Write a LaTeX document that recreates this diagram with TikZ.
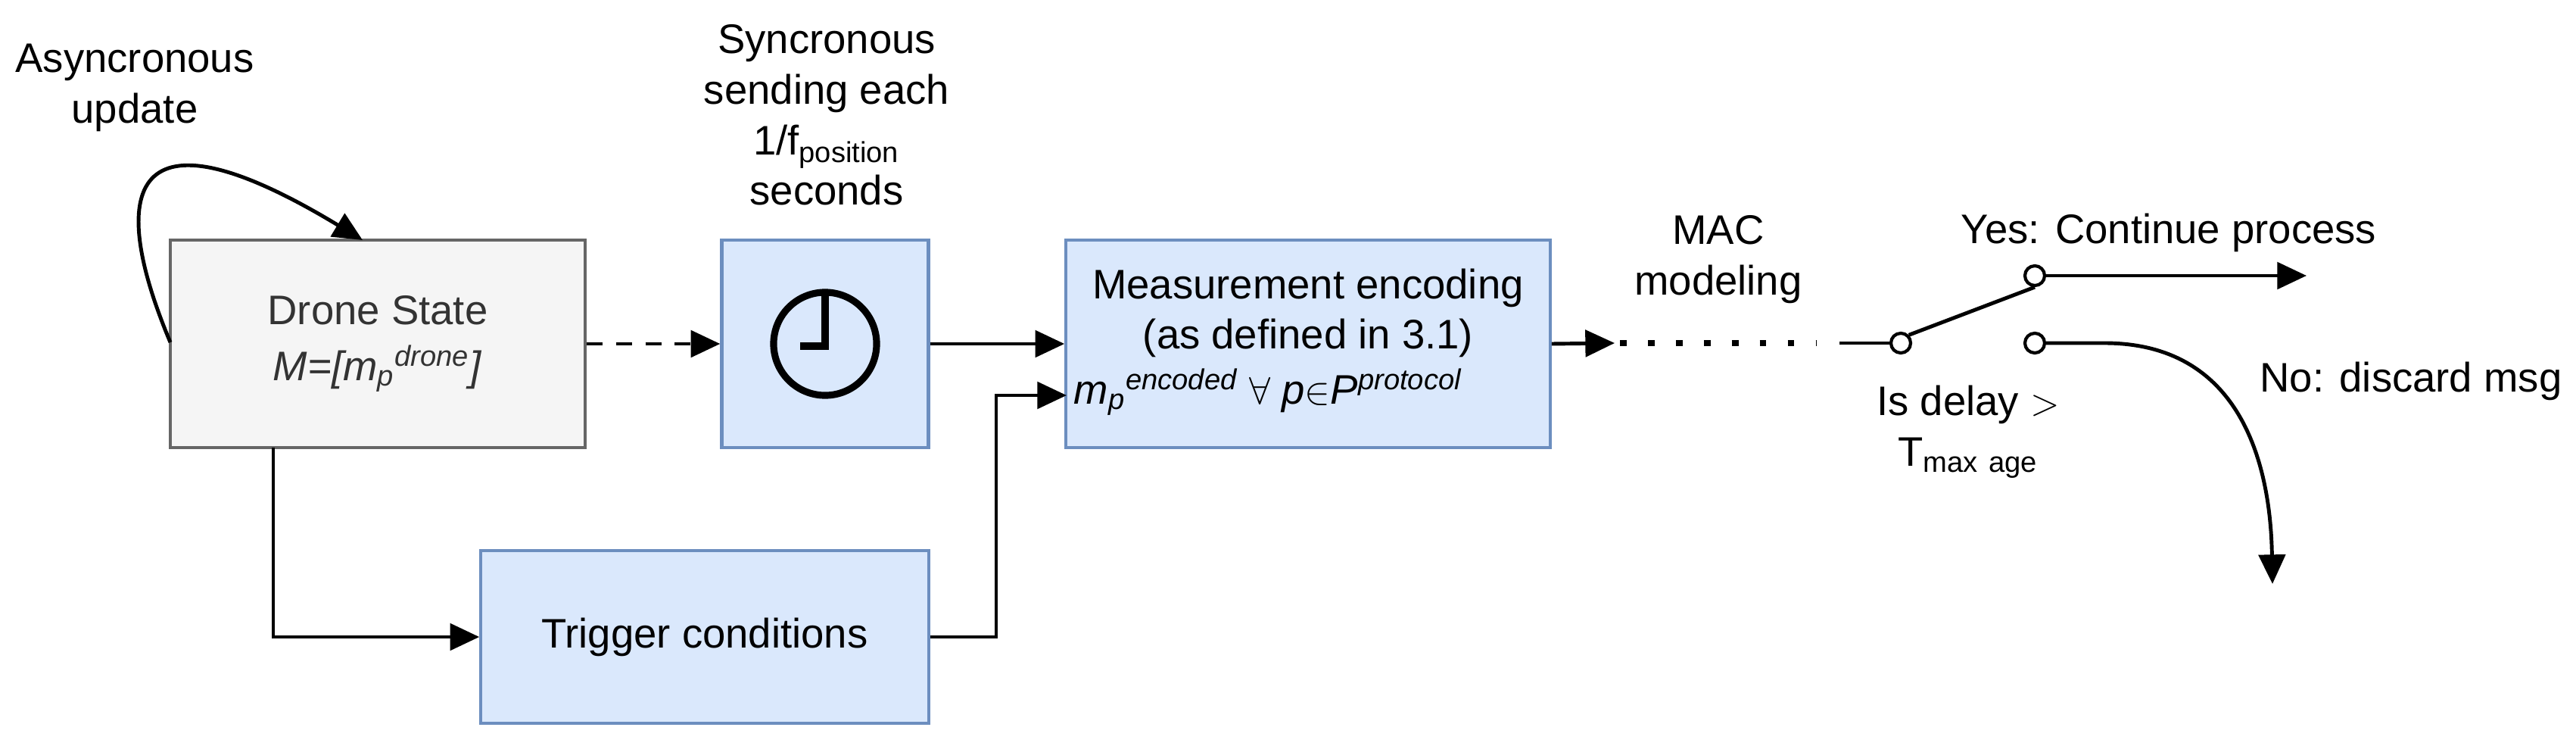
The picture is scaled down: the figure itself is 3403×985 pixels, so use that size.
\documentclass[tikz,border=0pt]{standalone}
\usepackage{fontspec}
\setmainfont{Liberation Sans}
\usetikzlibrary{arrows.meta}
\definecolor{bfill}{HTML}{DAE8FC}
\definecolor{bdraw}{HTML}{6C8EBF}
\definecolor{gfill}{HTML}{F5F5F5}
\definecolor{gdraw}{HTML}{666666}
\begin{document}
\begin{tikzpicture}[x=0.01cm,y=-0.01cm,
  font=\fontsize{15.5}{19}\selectfont,
  box/.style={draw=bdraw,fill=bfill,line width=1.2pt,inner sep=0pt},
  arr/.style={-{Triangle[length=11pt,width=10pt]},line width=1.4pt},
  lbl/.style={align=center,inner sep=0pt},
  sw/.style={circle,draw,fill=white,line width=1.2pt,minimum size=0.26cm,inner sep=0pt}]
\useasboundingbox (0,0) rectangle (3403,985);
\node[draw=gdraw,fill=gfill,line width=1.2pt,minimum width=5.48cm,minimum height=2.74cm,inner sep=0pt] (ds) at (499,454) {};
\node[lbl,text=black!80] (dst) at (499,454) {Drone State\\[2pt] \textit{M=[m$_{\mathit{p}}$$^{\mathit{drone}}$]}};
\node[box,minimum width=2.73cm,minimum height=2.74cm] (clk) at (1090,454) {};
\draw[line width=2.6pt] (clk.center) circle (0.68cm);
\draw[line width=2.6pt] (1090,388) -- (1090,457) -- (1057,457);
\node[box,minimum width=6.39cm,minimum height=2.74cm] (enc) at (1728,454) {};
\node[lbl] at (1728,380) {Measurement encoding};
\node[lbl] at (1728,446) {(as defined in 3.1)};
\node[lbl,anchor=west] at (1418,518) {\textit{m$_{\mathit p}$$^{\mathit{encoded}}$ $\forall$ p$\in$P$^{\mathit{protocol}}$}};
\node[box,minimum width=5.91cm,minimum height=2.28cm] (trg) at (931,841) {};
\node[lbl] at (931,841) {Trigger conditions};
\node[lbl] (asy) at (178,116) {Asyncronous\\update};
\node[lbl] (syn) at (1092,152) {Syncronous\\sending each\\1/f$_{\mathrm{position}}$\\seconds};
\node[lbl] (mac) at (2270,343) {MAC\\modeling};
\node[lbl] (yes) at (2865,307) {Yes: Continue process};
\node[lbl] (no) at (3185,503) {No: discard msg};
\node[lbl] (dl) at (2600,570) {Is delay $>$\\T$_{\mathrm{max\ age}}$};
% connectors
\draw[arr] (225,452) .. controls (140,250) and (170,130) .. (479,317);
\draw[arr,dashed,dash pattern=on 6pt off 5pt] (ds.east) -- (clk.west);
\draw[arr] (clk.east) -- (enc.west |- clk.east);
\draw[arr] (361,591) |- (trg.west);
\draw[arr] (trg.east) -- (1316,841) |- (1409,522);
\coordinate (dend) at (2400,453);
\draw[arr] (enc.east) -- (2133,453);
\draw[line width=2.2pt,dotted,dash pattern=on 2.5pt off 8pt] (2140,453) -- (dend);
\node[sw] (s0) at (2511,453) {};
\node[sw] (s1) at (2688,364) {};
\node[sw] (s2) at (2688,453) {};
\draw[line width=1.4pt] (2430,453) -- (s0.west);
\draw[line width=1.4pt] (s0.north east) -- (s1.south);
\coordinate (yend) at (3047,364);
\draw[arr] (s1.east) -- (yend);
\coordinate (nend) at (3002,771);
\draw[arr] (s2.east) -- (2780,453) .. controls (2980,453) and (3000,650) .. (nend);
\end{tikzpicture}
\end{document}
